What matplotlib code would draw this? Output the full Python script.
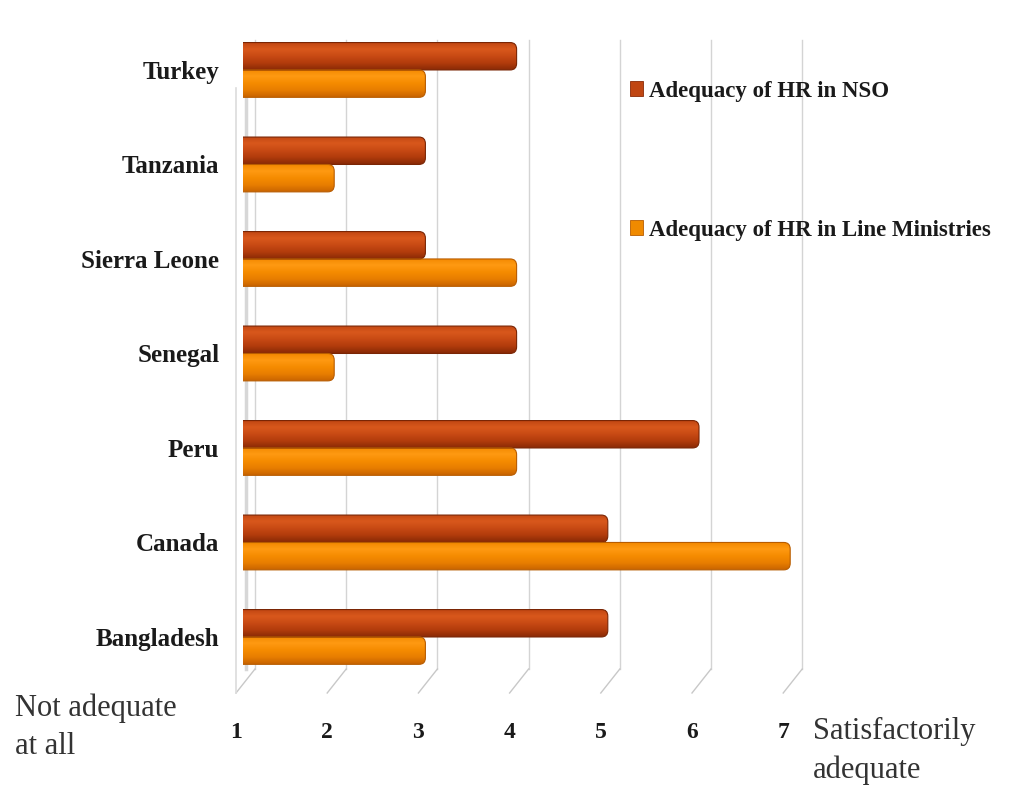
import numpy as np
import matplotlib
matplotlib.use("Agg")
import matplotlib.pyplot as plt
from matplotlib.patches import FancyBboxPatch, Patch
from matplotlib.colors import LinearSegmentedColormap
import matplotlib.transforms as mtransforms

countries = ["Bangladesh", "Canada", "Peru", "Senegal", "Sierra Leone", "Tanzania", "Turkey"]
nso = [5, 5, 6, 4, 3, 3, 4]
line_min = [3, 7, 4, 2, 4, 2, 3]
xticks = [1, 2, 3, 4, 5, 6, 7]
series_names = ["Adequacy of HR in NSO", "Adequacy of HR in Line Ministries"]

FONT = "Liberation Serif"
W, H = 1009, 790
fig = plt.figure(figsize=(W / 100, H / 100), dpi=100)
fig.patch.set_facecolor("white")

left_px, right_px, top_px, bot_px = 243, 800, 40, 669
ax = fig.add_axes([left_px / W, 1 - bot_px / H, (right_px - left_px) / W, (bot_px - top_px) / H])
ax.set_facecolor("none")
unit_px = 91.2
xmax = 1 + (right_px - left_px) / unit_px
ax.set_xlim(1, xmax)
ylo, yhi = -0.339, 6.317
ax.set_ylim(ylo, yhi)
for s in ax.spines.values():
    s.set_visible(False)

ypos = np.arange(len(countries))
bh = 0.29

# back-wall grid lines with perspective floor
trans_xdata_yaxes = mtransforms.blended_transform_factory(ax.transData, ax.transAxes)
off = 12 / unit_px
floor_drop = 24 / (bot_px - top_px)
for t in xticks:
    ax.plot([t + off, t + off], [0, 1], color="#d4d4d4", lw=1.0, transform=trans_xdata_yaxes,
            clip_on=False, zorder=0)
    ax.plot([t + off, t - 7 / unit_px], [0, -floor_drop], color="#c8c8c8", lw=1.0,
            transform=trans_xdata_yaxes, clip_on=False, zorder=0)

# left wall
ax.plot([1 - 7 / unit_px, 1 - 7 / unit_px], [-floor_drop, 1 - 48 / (bot_px - top_px)],
        color="#dcdcdc", lw=1.2, transform=trans_xdata_yaxes, clip_on=False, zorder=0)
ax.plot([1 + 3 / unit_px, 1 + 3 / unit_px], [0.0, 1 - 30 / (bot_px - top_px)],
        color="#bdbdbd", lw=2.5, alpha=0.6, transform=trans_xdata_yaxes, clip_on=False, zorder=0)

cm_nso = LinearSegmentedColormap.from_list("nso", ["#8a2a06", "#b23c0c", "#c84a14", "#d9581c", "#c04612"])
cm_lm = LinearSegmentedColormap.from_list("lm", ["#c96400", "#e87e00", "#f58b00", "#ff9a12", "#f28800"])
grad = np.linspace(0, 1, 64).reshape(-1, 1)


def draw_bar(y0, val, cmap, edge):
    patch = FancyBboxPatch((1 - 0.1, y0), val - 1 + 0.1, bh,
                           boxstyle="round,pad=0,rounding_size=0.07",
                           mutation_aspect=1.0, facecolor="none", edgecolor=edge, lw=0.8, zorder=3)
    ax.add_patch(patch)
    im = ax.imshow(grad, extent=[1 - 0.1, val, y0, y0 + bh], origin="lower", cmap=cmap,
                   aspect="auto", zorder=2, interpolation="bilinear")
    im.set_clip_path(patch)


for i, y in enumerate(ypos):
    draw_bar(y, nso[i], cm_nso, "#7a2504")
    draw_bar(y - bh, line_min[i], cm_lm, "#b85c00")

ax.set_xlim(1, xmax)
ax.set_ylim(ylo, yhi)

ax.set_xticks([])
ax.set_yticks(ypos)
ax.set_yticklabels(countries, fontfamily=FONT, fontweight="bold", fontsize=18, color="#1a1a1a")
ax.tick_params(axis="y", length=0, pad=17)

# x tick numbers
lab_off = mtransforms.ScaledTranslation(-7 / 100, 0, fig.dpi_scale_trans)
ylab = -(732 - bot_px) / (bot_px - top_px)
for t in xticks:
    ax.text(t, ylab, str(t), transform=trans_xdata_yaxes + lab_off, ha="center", va="center",
            fontfamily=FONT, fontweight="bold", fontsize=17, color="#1a1a1a")

fig.text(15 / W, 1 - 727 / H, "Not adequate\nat all", ha="left", va="center", fontfamily=FONT,
         fontsize=22, color="#333333", linespacing=1.4)
fig.text(813 / W, 1 - 751 / H, "Satisfactorily\nadequate", ha="left", va="center", fontfamily=FONT,
         fontsize=22, color="#333333", linespacing=1.4)

handles = [Patch(facecolor="#c04612", edgecolor="#8a2a06", lw=0.6),
           Patch(facecolor="#f08a00", edgecolor="#b85c00", lw=0.6)]
leg = fig.legend(handles, series_names, loc="upper left", bbox_to_anchor=(609 / W, 1 - 60 / H),
                 frameon=False, handlelength=0.6, handleheight=0.6, handletextpad=0.25,
                 labelspacing=5.15, prop={"family": FONT, "weight": "bold", "size": 16.5})
for t in leg.get_texts():
    t.set_color("#1a1a1a")

fig.savefig("out.png", dpi=100, facecolor="white")
